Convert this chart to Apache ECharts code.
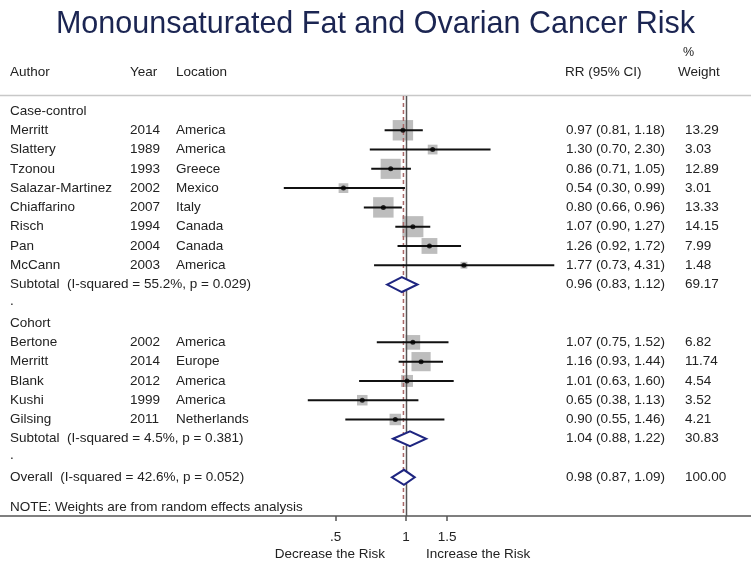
<!DOCTYPE html>
<html><head><meta charset="utf-8">
<script src="https://cdn.jsdelivr.net/npm/echarts@6/dist/echarts.min.js"></script>
<style>html,body{margin:0;padding:0;background:#fff}#c{width:751px;height:561px}</style>
</head><body><div id="c"></div>
<script>
// ---------- DATA ----------
const titleText = 'Monounsaturated Fat and Ovarian Cancer Risk';
const headers = ['Author', 'Year', 'Location', 'RR (95% CI)', '%', 'Weight'];
const groupNames = ['Case-control', 'Cohort'];

const caseAuthors   = ['Merritt', 'Slattery', 'Tzonou', 'Salazar-Martinez', 'Chiaffarino', 'Risch', 'Pan', 'McCann'];
const caseYears     = ['2014', '1989', '1993', '2002', '2007', '1994', '2004', '2003'];
const caseLocations = ['America', 'America', 'Greece', 'Mexico', 'Italy', 'Canada', 'Canada', 'America'];
const caseRR        = [0.97, 1.30, 0.86, 0.54, 0.80, 1.07, 1.26, 1.77];
const caseLower     = [0.81, 0.70, 0.71, 0.30, 0.66, 0.90, 0.92, 0.73];
const caseUpper     = [1.18, 2.30, 1.05, 0.99, 0.96, 1.27, 1.72, 4.31];
const caseWeight    = [13.29, 3.03, 12.89, 3.01, 13.33, 14.15, 7.99, 1.48];

const cohortAuthors   = ['Bertone', 'Merritt', 'Blank', 'Kushi', 'Gilsing'];
const cohortYears     = ['2002', '2014', '2012', '1999', '2011'];
const cohortLocations = ['America', 'Europe', 'America', 'America', 'Netherlands'];
const cohortRR        = [1.07, 1.16, 1.01, 0.65, 0.90];
const cohortLower     = [0.75, 0.93, 0.63, 0.38, 0.55];
const cohortUpper     = [1.52, 1.44, 1.60, 1.13, 1.46];
const cohortWeight    = [6.82, 11.74, 4.54, 3.52, 4.21];

const subtotalLabels = ['Subtotal  (I-squared = 55.2%, p = 0.029)', 'Subtotal  (I-squared = 4.5%, p = 0.381)'];
const subtotalRR     = [0.96, 1.04];
const subtotalLower  = [0.83, 0.88];
const subtotalUpper  = [1.12, 1.22];
const subtotalWeight = [69.17, 30.83];

const overallLabel  = 'Overall  (I-squared = 42.6%, p = 0.052)';
const overallRR     = [0.98];
const overallLower  = [0.87];
const overallUpper  = [1.09];
const overallWeight = [100.00];

const noteText = 'NOTE: Weights are from random effects analysis';
const tickValues = [0.5, 1, 1.5];
const tickLabels = ['.5', '1', '1.5'];
const axisNames = ['Decrease the Risk', 'Increase the Risk'];

// ---------- LAYOUT / STYLE ----------
const FONT = '"Liberation Sans", Arial, Helvetica, sans-serif';
const FS = 13.5;
const TXT = '#222';
const ROW0 = 111, ROWH = 19.28, AXIS_Y = 516, TOP_Y = 96;
const X1PX = 406, PX_PER_LN = 101.5, W = 751;
const xMin = Math.exp(-X1PX / PX_PER_LN);
const xMax = Math.exp((W - X1PX) / PX_PER_LN);
const yMin = -ROW0 / ROWH;
const yMax = (AXIS_Y - ROW0) / ROWH;
const COLS = {author: 10, year: 130, loc: 176, rr: 566, weight: 685};

// ---------- BUILD ROWS ----------
const rows = [];
let r = 0;
function addGroup(gi, authors, years, locs, rr, lo, hi, w) {
  rows.push({row: r++, label: groupNames[gi], kind: 'head'});
  authors.forEach((a, i) => rows.push({row: r++, label: a, year: years[i], loc: locs[i], rr: rr[i], lo: lo[i], hi: hi[i], w: w[i], kind: 'study'}));
  rows.push({row: r++, label: subtotalLabels[gi], rr: subtotalRR[gi], lo: subtotalLower[gi], hi: subtotalUpper[gi], w: subtotalWeight[gi], kind: 'pooled'});
  rows.push({row: r++, label: '.', kind: 'head'});
}
addGroup(0, caseAuthors, caseYears, caseLocations, caseRR, caseLower, caseUpper, caseWeight);
addGroup(1, cohortAuthors, cohortYears, cohortLocations, cohortRR, cohortLower, cohortUpper, cohortWeight);
rows.push({row: r++, label: overallLabel, rr: overallRR[0], lo: overallLower[0], hi: overallUpper[0], w: overallWeight[0], kind: 'pooled'});
rows.push({row: r - 1 + 1.55, label: noteText, kind: 'head'});

const studies = rows.filter(d => d.kind === 'study');
const pooled = rows.filter(d => d.kind === 'pooled');
const fmt = v => v.toFixed(2);

function txt(x, y, s, extra) {
  return Object.assign({type: 'text', x: x, y: y, style: {text: s, fill: TXT, fontSize: FS, fontFamily: FONT, align: 'left', verticalAlign: 'middle'}}, extra || {});
}

const chart = echarts.init(document.getElementById('c'), null, {renderer: 'canvas'});
chart.setOption({
  animation: false,
  backgroundColor: '#fff',
  title: {text: titleText, left: 'center', top: 4,
    textStyle: {fontSize: 30.5, fontWeight: 'normal', color: '#1b2552', fontFamily: FONT}},
  grid: {left: 0, right: 0, top: 0, bottom: 561 - AXIS_Y},
  xAxis: {
    type: 'log', min: xMin, max: xMax, position: 'bottom',
    splitLine: {show: false}, minorTick: {show: false},
    axisLine: {show: true, onZero: false, lineStyle: {color: '#555', width: 1.5}},
    axisTick: {show: true, length: 5, customValues: tickValues, lineStyle: {color: '#555', width: 1.5}},
    axisLabel: {show: true, customValues: tickValues, margin: 14, color: TXT, fontSize: FS, fontFamily: FONT,
      formatter: v => { let k = 0; tickValues.forEach((t, i) => { if (Math.abs(t - v) < Math.abs(tickValues[k] - v)) k = i; }); return tickLabels[k]; }}
  },
  yAxis: {type: 'value', inverse: true, min: yMin, max: yMax, show: false},
  graphic: [
    {type: 'line', shape: {x1: 0, y1: 95.5, x2: W, y2: 95.5}, style: {stroke: '#c8c8c8', lineWidth: 1.5}},
    {type: 'text', x: COLS.author, y: 72, style: {text: headers[0], fill: TXT, fontSize: FS, fontFamily: FONT, verticalAlign: 'middle'}},
    {type: 'text', x: COLS.year, y: 72, style: {text: headers[1], fill: TXT, fontSize: FS, fontFamily: FONT, verticalAlign: 'middle'}},
    {type: 'text', x: COLS.loc, y: 72, style: {text: headers[2], fill: TXT, fontSize: FS, fontFamily: FONT, verticalAlign: 'middle'}},
    {type: 'text', x: COLS.rr - 1, y: 72, style: {text: headers[3], fill: TXT, fontSize: FS, fontFamily: FONT, verticalAlign: 'middle'}},
    {type: 'text', x: 683, y: 53, style: {text: headers[4], fill: TXT, fontSize: FS - 1, fontFamily: FONT, verticalAlign: 'middle'}},
    {type: 'text', x: 678, y: 72, style: {text: headers[5], fill: TXT, fontSize: FS, fontFamily: FONT, verticalAlign: 'middle'}}
  ],
  series: [
    { // weight squares
      type: 'custom', clip: false, z: 1,
      data: studies.map(d => [d.rr, d.row, d.w]),
      encode: {x: 0, y: 1},
      renderItem: (p, api) => {
        const c = api.coord([api.value(0), api.value(1)]);
        const s = 5.6 * Math.sqrt(api.value(2));
        return {type: 'rect', shape: {x: c[0] - s / 2, y: c[1] - s / 2, width: s, height: s}, style: {fill: '#bdbdbd'}};
      }
    },
    { // reference lines: null (solid) and overall (dashed)
      type: 'custom', clip: false, z: 2,
      data: [[1, 0, 0], [overallRR[0], 0, 1]],
      encode: {x: 0, y: 1},
      renderItem: (p, api) => {
        const x = api.coord([api.value(0), 0])[0];
        const dashed = api.value(2) === 1;
        return {type: 'line', shape: {x1: x + (dashed ? -0.5 : 0.5), y1: TOP_Y, x2: x + (dashed ? -0.5 : 0.5), y2: AXIS_Y},
          style: dashed ? {stroke: '#a86868', lineWidth: 1.5, lineDash: [4, 3]} : {stroke: '#555', lineWidth: 1.5}};
      }
    },
    { // CI lines
      type: 'custom', clip: false, z: 3,
      data: studies.map(d => [d.lo, d.hi, d.row]),
      encode: {x: [0, 1], y: 2},
      renderItem: (p, api) => {
        const a = api.coord([api.value(0), api.value(2)]);
        const b = api.coord([api.value(1), api.value(2)]);
        return {type: 'line', shape: {x1: a[0], y1: a[1], x2: b[0], y2: b[1]}, style: {stroke: '#111', lineWidth: 2}};
      }
    },
    { // point estimates
      type: 'scatter', z: 4, symbol: 'circle', symbolSize: 5,
      itemStyle: {color: '#000'},
      data: studies.map(d => [d.rr, d.row])
    },
    { // pooled diamonds
      type: 'custom', clip: false, z: 5,
      data: pooled.map(d => [d.lo, d.rr, d.hi, d.row]),
      encode: {x: [0, 1, 2], y: 3},
      renderItem: (p, api) => {
        const y = api.value(3);
        const L = api.coord([api.value(0), y]);
        const M = api.coord([api.value(1), y]);
        const R = api.coord([api.value(2), y]);
        const h = 7.5;
        return {type: 'polygon', shape: {points: [[L[0], L[1]], [M[0], M[1] - h], [R[0], R[1]], [M[0], M[1] + h]]},
          style: {fill: '#fff', stroke: '#1e2580', lineWidth: 2}};
      }
    },
    { // text columns
      type: 'custom', clip: false, z: 6,
      data: rows.map(d => [1, d.row]),
      encode: {x: 0, y: 1},
      renderItem: (p, api) => {
        const d = rows[p.dataIndex];
        const y = api.coord([1, api.value(1)])[1];
        const ch = [txt(COLS.author, d.label === '.' ? y - 3 : y, d.label)];
        if (d.kind === 'study') {
          ch.push(txt(COLS.year, y, d.year));
          ch.push(txt(COLS.loc, y, d.loc));
        }
        if (d.kind !== 'head') {
          ch.push(txt(COLS.rr, y, fmt(d.rr) + ' (' + fmt(d.lo) + ', ' + fmt(d.hi) + ')'));
          ch.push(txt(COLS.weight, y, fmt(d.w)));
        }
        return {type: 'group', children: ch};
      }
    },
    { // axis side captions, anchored at RR = 1
      type: 'custom', clip: false, z: 6,
      data: [[1, yMax]],
      encode: {x: 0, y: 1},
      renderItem: (p, api) => {
        const c = api.coord([1, yMax]);
        return {type: 'group', children: [
          txt(c[0] - 21, c[1] + 38, axisNames[0], {style: {text: axisNames[0], fill: TXT, fontSize: FS, fontFamily: FONT, align: 'right', verticalAlign: 'middle'}}),
          txt(c[0] + 20, c[1] + 38, axisNames[1])
        ]};
      }
    }
  ]
});
</script></body></html>
